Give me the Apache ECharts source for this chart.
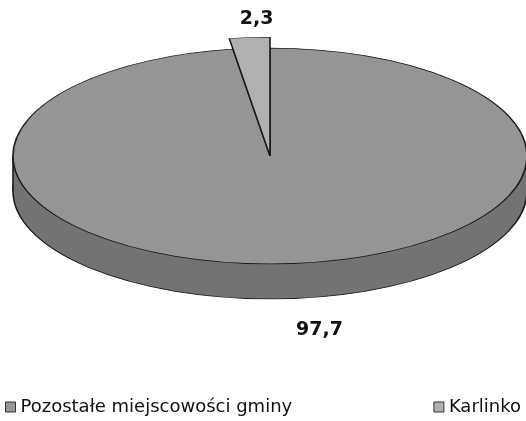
<!DOCTYPE html>
<html>
<head>
<meta charset="utf-8">
<script src="https://cdn.jsdelivr.net/npm/echarts@6/dist/echarts.min.js"></script>
<style>
  html, body { margin: 0; padding: 0; background: #ffffff; }
  #chart { width: 526px; height: 421px; }
</style>
</head>
<body>
<div id="chart"></div>
<script>
// Udział ludności: Karlinko vs pozostałe miejscowości gminy (%)
var categories = ['Pozostałe miejscowości gminy', 'Karlinko'];
var values = [97.7, 2.3];
var sliceColors = ['#959595', '#b0b0b0'];
var rimColor = '#737373';

// 3D pie geometry (circle drawn in a vertically squashed group)
var CX = 270, CY = 156, R = 257, TILT = 0.42, DEPTH = 35;
var PULL = [1, 1.1];             // radius factor per slice (Karlinko pulled out)
var START_DEG = 90;              // first boundary at 12 o'clock
// value label offset from the slice's outer rim point, in px
var LABEL_OFFSET = [[31, 31], [7, -19]];

var total = values.reduce(function (a, b) { return a + b; }, 0);

// Slice angles (mathematical, counter-clockwise): Karlinko first from 12 o'clock,
// the remaining slice continues round to close the circle.
function sliceAngles(i) {
  var kSpan = values[1] / total * 360;
  if (i === 1) return [START_DEG, START_DEG + kSpan];
  return [START_DEG + kSpan, START_DEG + 360];
}

function fmt(v) { return v.toFixed(1).replace('.', ','); }

var EDGE = { stroke: '#1a1a1a', lineWidth: 1.6, strokeNoScale: true };

function renderSlice(params, api) {
  var i = params.seriesIndex;
  var a = sliceAngles(i);
  var mid = (a[0] + a[1]) / 2 * Math.PI / 180;
  var r = R * PULL[i];
  var children = [];
  if (i === 0) {
    // side wall of the disc
    children.push({
      type: 'circle',
      shape: { cx: 0, cy: DEPTH / TILT, r: R },
      style: Object.assign({ fill: rimColor }, EDGE)
    });
    children.push({
      type: 'rect',
      shape: { x: -R, y: 0, width: 2 * R, height: DEPTH / TILT },
      style: { fill: rimColor }
    });
    children.push({
      type: 'line',
      shape: { x1: -R, y1: 0, x2: -R, y2: DEPTH / TILT },
      style: Object.assign({}, EDGE)
    });
    children.push({
      type: 'line',
      shape: { x1: R, y1: 0, x2: R, y2: DEPTH / TILT },
      style: Object.assign({}, EDGE)
    });
  }
  children.push({
    type: 'sector',
    shape: {
      cx: 0, cy: 0, r0: 0, r: r,
      startAngle: -a[1] * Math.PI / 180,
      endAngle: -a[0] * Math.PI / 180,
      clockwise: true
    },
    style: Object.assign({ fill: api.visual('color') }, EDGE)
  });
  var pie = { type: 'group', x: CX, y: CY, scaleX: 1, scaleY: TILT, children: children };

  // value label just outside the slice's outer rim
  var sinM = Math.sin(mid);
  var rimX = CX + Math.cos(mid) * r;
  var rimY = CY - sinM * r * TILT + (sinM < 0 ? DEPTH : 0);
  var label = {
    type: 'text',
    x: rimX + LABEL_OFFSET[i][0],
    y: rimY + LABEL_OFFSET[i][1],
    style: {
      text: fmt(values[i]),
      fill: '#111111',
      font: 'bold 19px "DejaVu Sans", Verdana, sans-serif',
      align: 'center', verticalAlign: 'middle'
    }
  };
  return { type: 'group', children: [pie, label] };
}

var series = categories.map(function (name, i) {
  return {
    name: name,
    type: 'custom',
    coordinateSystem: 'none',
    silent: true,
    itemStyle: { color: sliceColors[i] },
    data: [values[i]],
    renderItem: renderSlice,
    z: i === 0 ? 2 : 3
  };
});

var legendText = { color: '#111111', fontSize: 18, fontFamily: '"DejaVu Sans", Tahoma, sans-serif' };
var legendIconStyle = { borderColor: '#333333', borderWidth: 1 };

var chart = echarts.init(document.getElementById('chart'), null, { renderer: 'canvas' });
chart.setOption({
  animation: false,
  backgroundColor: '#ffffff',
  legend: [
    {
      data: [categories[0]], left: 0, top: 393,
      icon: 'rect', itemWidth: 10, itemHeight: 10, itemGap: 6,
      textStyle: legendText, itemStyle: legendIconStyle, selectedMode: false
    },
    {
      data: [categories[1]], right: 0, top: 393,
      icon: 'rect', itemWidth: 10, itemHeight: 10, itemGap: 6,
      textStyle: legendText, itemStyle: legendIconStyle, selectedMode: false
    }
  ],
  series: series
});
</script>
</body>
</html>
